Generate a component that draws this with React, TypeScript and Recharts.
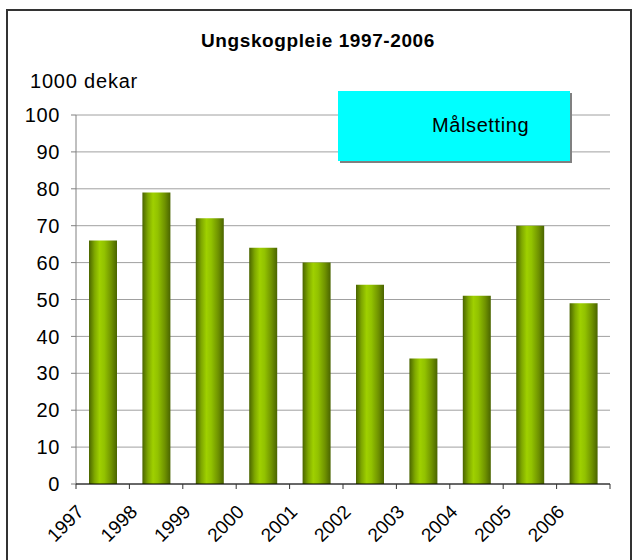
import React from 'react';
import { BarChart, Bar, XAxis, YAxis, CartesianGrid } from 'recharts';

// Ungskogpleie, 1000 dekar per år
const years = ['1997', '1998', '1999', '2000', '2001', '2002', '2003', '2004', '2005', '2006'];
const areas = [66, 79, 72, 64, 60, 54, 34, 51, 70, 49];
const yTicks = [0, 10, 20, 30, 40, 50, 60, 70, 80, 90, 100];

const data = years.map((year, i) => ({ year, value: areas[i] }));

const FONT = '"Liberation Sans", Arial, sans-serif';
const W = 636;
const H = 560;
const M = { top: 115, right: 26, bottom: 30, left: 0 };
const Y_AXIS_W = 76;
const X_AXIS_H = 46;
const HALF_BAND = (W - M.right - M.left - Y_AXIS_W) / years.length / 2;

// ticks sit between categories, labels slanted 45 degrees
const YearTick = (props: any) => {
  const { x, y, payload, index } = props;
  const tx = x - HALF_BAND;
  const ax = tx + 9;
  const ay = y + 29;
  return (
    <g>
      <line x1={tx} y1={y} x2={tx} y2={y + 5} stroke="#333" />
      {index === years.length - 1 && (
        <line x1={x + HALF_BAND} y1={y} x2={x + HALF_BAND} y2={y + 5} stroke="#333" />
      )}
      <text
        x={ax}
        y={ay}
        textAnchor="end"
        transform={`rotate(-45 ${ax} ${ay})`}
        fontSize={19}
        fontFamily={FONT}
        fill="#000"
      >
        {payload.value}
      </text>
    </g>
  );
};

export default function App() {
  return (
    <div style={{ position: 'absolute', left: 0, top: 0, width: W, height: H, overflow: 'hidden', background: '#fff', fontFamily: FONT }}>
      <div
        style={{
          position: 'absolute',
          left: 6,
          top: 9,
          width: 622,
          height: 600,
          border: '2px solid #333',
        }}
      />
      <div
        style={{
          position: 'absolute',
          left: 0,
          width: W,
          top: 30,
          textAlign: 'center',
          fontWeight: 'bold',
          fontSize: 19,
          letterSpacing: 0.6,
        }}
      >
        Ungskogpleie 1997-2006
      </div>
      <div style={{ position: 'absolute', left: 30, top: 70, fontSize: 20, letterSpacing: 0.8 }}>1000 dekar</div>

      <BarChart width={W} height={H} data={data} margin={M} style={{ position: 'absolute', left: 0, top: 0 }}>
        <defs>
          <linearGradient id="barGrad" x1="0" y1="0" x2="1" y2="0">
            <stop offset="0%" stopColor="#4a6400" />
            <stop offset="20%" stopColor="#7fa800" />
            <stop offset="38%" stopColor="#9fd000" />
            <stop offset="55%" stopColor="#92c200" />
            <stop offset="80%" stopColor="#6f9200" />
            <stop offset="100%" stopColor="#4a6400" />
          </linearGradient>
        </defs>
        <CartesianGrid vertical={false} stroke="#a0a0a0" />
        <YAxis
          width={Y_AXIS_W}
          domain={[0, 100]}
          ticks={yTicks}
          interval={0}
          tickSize={5}
          tickMargin={11}
          axisLine={{ stroke: '#808080' }}
          tickLine={{ stroke: '#808080' }}
          tick={{ fill: '#000', fontSize: 20, fontFamily: FONT, letterSpacing: 0.6 }}
        />
        <XAxis
          dataKey="year"
          height={X_AXIS_H}
          interval={0}
          tickSize={0}
          tickMargin={0}
          tickLine={false}
          axisLine={{ stroke: '#000' }}
          tick={<YearTick />}
        />
        <Bar dataKey="value" barSize={28} fill="url(#barGrad)" isAnimationActive={false} />
      </BarChart>

      <div
        style={{
          position: 'absolute',
          left: 338,
          top: 91,
          width: 232,
          height: 70,
          background: '#00ffff',
          boxShadow: '2px 2px 0 #808080',
        }}
      >
        <div style={{ position: 'absolute', left: 94, top: 23, fontSize: 20, letterSpacing: 0.6 }}>Målsetting</div>
      </div>
    </div>
  );
}
